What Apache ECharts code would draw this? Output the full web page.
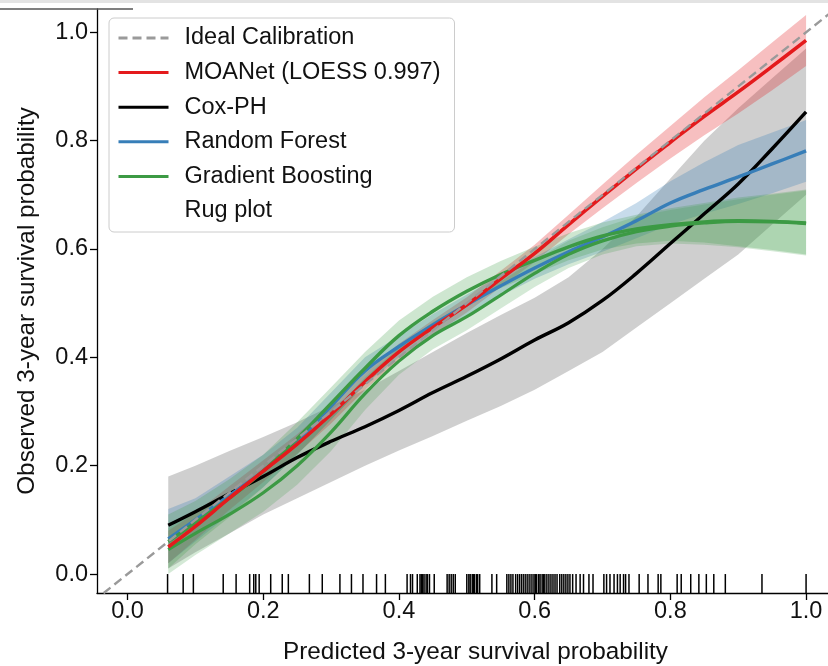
<!DOCTYPE html>
<html>
<head>
<meta charset="utf-8">
<script src="https://cdn.jsdelivr.net/npm/echarts@6/dist/echarts.min.js"></script>
<style>
  html, body { margin: 0; padding: 0; background: #fff; }
  #chart { width: 828px; height: 666px; }
</style>
</head>
<body>
<div id="chart"></div>
<script>
// predicted probability grid shared by all curves
const xGrid = [0.06, 0.1, 0.15, 0.2, 0.25, 0.3, 0.35, 0.4, 0.45, 0.5, 0.55, 0.6, 0.65, 0.7, 0.75, 0.8, 0.85, 0.9, 0.95, 1.0];

// MOANet
const moaMid = [0.05, 0.088, 0.14, 0.19, 0.24, 0.295, 0.355, 0.41, 0.455, 0.497, 0.545, 0.592, 0.645, 0.697, 0.748, 0.797, 0.845, 0.89, 0.937, 0.985];
const moaLo  = [0.02, 0.063, 0.118, 0.17, 0.222, 0.278, 0.34, 0.395, 0.441, 0.483, 0.53, 0.576, 0.627, 0.675, 0.722, 0.767, 0.81, 0.85, 0.893, 0.938];
const moaHi  = [0.08, 0.113, 0.162, 0.21, 0.258, 0.312, 0.37, 0.425, 0.469, 0.511, 0.56, 0.608, 0.663, 0.719, 0.774, 0.827, 0.88, 0.93, 0.981, 1.032];

// Cox-PH
const coxMid = [0.09, 0.115, 0.148, 0.18, 0.215, 0.245, 0.272, 0.302, 0.335, 0.365, 0.397, 0.432, 0.464, 0.505, 0.555, 0.61, 0.665, 0.72, 0.785, 0.853];
const coxLo  = [0.01, 0.04, 0.075, 0.11, 0.14, 0.17, 0.2, 0.228, 0.255, 0.283, 0.31, 0.34, 0.375, 0.41, 0.455, 0.5, 0.545, 0.59, 0.645, 0.70];
const coxHi  = [0.18, 0.2, 0.227, 0.253, 0.28, 0.31, 0.34, 0.375, 0.41, 0.445, 0.478, 0.51, 0.548, 0.6, 0.66, 0.73, 0.8, 0.86, 0.915, 0.97];

// Random Forest
const rfMid = [0.065, 0.10, 0.145, 0.19, 0.245, 0.31, 0.375, 0.42, 0.46, 0.497, 0.532, 0.565, 0.595, 0.622, 0.652, 0.685, 0.71, 0.733, 0.757, 0.781];
const rfLo  = [0.02, 0.06, 0.11, 0.16, 0.22, 0.285, 0.35, 0.40, 0.44, 0.478, 0.513, 0.545, 0.572, 0.595, 0.62, 0.645, 0.665, 0.683, 0.703, 0.724];
const rfHi  = [0.12, 0.14, 0.18, 0.22, 0.27, 0.335, 0.40, 0.44, 0.48, 0.516, 0.551, 0.585, 0.618, 0.65, 0.685, 0.725, 0.76, 0.792, 0.815, 0.838];

// Gradient Boosting (two green curves in the figure)
const gbMid = [0.06, 0.095, 0.14, 0.19, 0.25, 0.315, 0.38, 0.44, 0.485, 0.522, 0.553, 0.579, 0.604, 0.624, 0.637, 0.645, 0.65, 0.652, 0.651, 0.648];
const gbLo  = [0.01, 0.055, 0.105, 0.16, 0.22, 0.285, 0.35, 0.41, 0.46, 0.497, 0.528, 0.554, 0.579, 0.599, 0.61, 0.615, 0.612, 0.605, 0.598, 0.59];
const gbHi  = [0.11, 0.135, 0.175, 0.22, 0.28, 0.345, 0.41, 0.468, 0.512, 0.548, 0.578, 0.604, 0.629, 0.649, 0.663, 0.675, 0.685, 0.695, 0.702, 0.71];
const gb2Mid = [0.045, 0.075, 0.11, 0.15, 0.2, 0.262, 0.333, 0.393, 0.44, 0.475, 0.515, 0.555, 0.59, 0.615, 0.632, 0.642, 0.648, 0.651, 0.65, 0.647];
const gb2Lo  = [0.0, 0.035, 0.075, 0.115, 0.165, 0.227, 0.303, 0.368, 0.415, 0.45, 0.49, 0.53, 0.565, 0.59, 0.605, 0.61, 0.608, 0.603, 0.596, 0.588];
const gb2Hi  = [0.085, 0.115, 0.145, 0.185, 0.235, 0.297, 0.363, 0.418, 0.465, 0.50, 0.54, 0.58, 0.615, 0.64, 0.66, 0.672, 0.682, 0.692, 0.70, 0.708];

// rug of predicted values
const rugX = [0.059, 0.082, 0.097, 0.141, 0.160, 0.180, 0.186, 0.189, 0.194, 0.211, 0.228, 0.237, 0.268, 0.287, 0.313, 0.330, 0.347, 0.367, 0.380,
  0.412, 0.417, 0.420, 0.427, 0.431, 0.433, 0.435, 0.437, 0.440, 0.442, 0.445, 0.452, 0.471, 0.474, 0.477, 0.480, 0.483,
  0.500, 0.503, 0.505, 0.508, 0.510, 0.511, 0.514, 0.516, 0.519, 0.537, 0.544,
  0.559, 0.562, 0.565, 0.568, 0.572, 0.575, 0.578, 0.581, 0.584, 0.587, 0.590, 0.593, 0.596, 0.599, 0.601, 0.603, 0.606, 0.608,
  0.611, 0.613, 0.615, 0.618, 0.621, 0.624, 0.627, 0.630, 0.633, 0.637, 0.640, 0.643, 0.646, 0.649, 0.652, 0.656, 0.661, 0.667,
  0.672, 0.680, 0.686, 0.702, 0.706, 0.711, 0.717, 0.722, 0.726, 0.731, 0.734, 0.739, 0.754, 0.767, 0.782, 0.786,
  0.810, 0.816, 0.830, 0.842, 0.853, 0.864, 0.881, 0.935, 1.000];

const idealX = [-0.1, 1.2];
const tickValues = [0, 0.2, 0.4, 0.6, 0.8, 1.0];

const xMin = -0.045, xMax = 1.05, yMin = -0.035, yMax = 1.043;
const FONT = '"Liberation Sans", Arial, Helvetica, sans-serif';
const FS = 23.5;
const FS_NAME = 24.3;

const C_RED = '#e41a1c', C_BLUE = '#377eb8', C_GREEN = '#3c9a44', C_GRAY = '#808080';

function pairs(mid) { return xGrid.map((x, i) => [x, mid[i]]); }

function band(lo, hi, color, opacity) {
  return {
    type: 'custom',
    silent: true,
    clip: true,
    z: 1,
    data: [[xGrid[0], lo[0]]],
    renderItem: function (params, api) {
      const pts = [];
      for (let i = 0; i < xGrid.length; i++) pts.push(api.coord([xGrid[i], hi[i]]));
      for (let i = xGrid.length - 1; i >= 0; i--) pts.push(api.coord([xGrid[i], lo[i]]));
      return { type: 'polygon', shape: { points: pts }, style: { fill: color, opacity: opacity } };
    }
  };
}

function curve(name, mid, color, width) {
  return {
    name: name, type: 'line', data: pairs(mid), smooth: 0.4,
    showSymbol: false, symbol: 'none', silent: true, z: 3,
    lineStyle: { color: color, width: width }, itemStyle: { color: color }
  };
}

const chart = echarts.init(document.getElementById('chart'), null, { renderer: 'canvas' });

chart.setOption({
  animation: false,
  backgroundColor: '#fff',
  grid: { left: 97, top: 9, width: 743, height: 584, containLabel: false, outerBoundsMode: 'none' },
  xAxis: {
    type: 'value', min: xMin, max: xMax,
    name: 'Predicted 3-year survival probability', nameLocation: 'middle', nameGap: 47,
    nameTextStyle: { fontSize: FS_NAME, color: '#111', fontFamily: FONT, padding: [0, 0, 0, 14] },
    axisLine: { onZero: false, lineStyle: { color: '#000', width: 1.3 } },
    axisTick: { customValues: tickValues, length: 7, lineStyle: { color: '#000', width: 1.3 } },
    axisLabel: { customValues: tickValues, formatter: v => v.toFixed(1), fontSize: FS, color: '#111', fontFamily: FONT, margin: 7 },
    splitLine: { show: false }
  },
  yAxis: {
    type: 'value', min: yMin, max: yMax,
    name: 'Observed 3-year survival probability', nameLocation: 'middle', nameGap: 58,
    nameTextStyle: { fontSize: FS_NAME, color: '#111', fontFamily: FONT },
    axisLine: { onZero: false, lineStyle: { color: '#000', width: 1.3 } },
    axisTick: { customValues: tickValues, length: 7, lineStyle: { color: '#000', width: 1.3 } },
    axisLabel: { customValues: tickValues, formatter: v => v.toFixed(1), fontSize: FS, color: '#111', fontFamily: FONT, margin: 9 },
    splitLine: { show: false }
  },
  legend: {
    orient: 'vertical', left: 109, top: 18,
    padding: [7, 14, 8, 8],
    itemWidth: 50, itemHeight: 14, itemGap: 8.6,
    itemStyle: { opacity: 0 },
    lineStyle: { width: 3 },
    backgroundColor: 'rgba(255,255,255,0.85)', borderColor: '#cccccc', borderWidth: 1, borderRadius: 5,
    textStyle: { fontSize: FS, color: '#111', fontFamily: FONT, lineHeight: 26, padding: [0, 0, 0, 11] },
    selectedMode: false,
    data: [
      { name: 'Ideal Calibration' },
      { name: 'MOANet (LOESS 0.997)' },
      { name: 'Cox-PH' },
      { name: 'Random Forest' },
      { name: 'Gradient Boosting' },
      { name: 'Rug plot', icon: 'none' }
    ]
  },
  graphic: [
    { type: 'rect', shape: { x: 0, y: 0, width: 828, height: 3 }, style: { fill: '#e3e3e3' }, z: 100 },
    { type: 'line', shape: { x1: 0, y1: 9, x2: 133, y2: 9 }, style: { stroke: '#555', lineWidth: 1.5 }, z: 100 }
  ],
  series: [
    band(coxLo, coxHi, C_GRAY, 0.38),
    band(moaLo, moaHi, C_RED, 0.28),
    band(rfLo, rfHi, C_BLUE, 0.28),
    band(gbLo, gbHi, C_GREEN, 0.25),
    band(gb2Lo, gb2Hi, C_GREEN, 0.22),
    curve('Cox-PH', coxMid, '#000', 3.4),
    curve('Random Forest', rfMid, C_BLUE, 3.4),
    curve('Gradient Boosting', gbMid, C_GREEN, 3.4),
    curve('Gradient Boosting 2', gb2Mid, C_GREEN, 3.2),
    curve('MOANet (LOESS 0.997)', moaMid, C_RED, 3.6),
    {
      name: 'Ideal Calibration', type: 'line', data: idealX.map(v => [v, v]),
      showSymbol: false, symbol: 'none', silent: true, z: 4, clip: true,
      lineStyle: { color: '#9a9a9a', width: 2.4, type: [9, 5] }, itemStyle: { color: '#9a9a9a' }
    },
    {
      name: 'Rug plot', type: 'custom', silent: true, clip: true, z: 2,
      itemStyle: { color: '#000' },
      data: rugX.map(v => [v, 0]),
      renderItem: function (params, api) {
        const a = api.coord([api.value(0), 0]);
        const b = api.coord([api.value(0), yMin]);
        return { type: 'line', shape: { x1: a[0], y1: a[1], x2: b[0], y2: b[1] }, style: { stroke: '#000', lineWidth: 1.5 } };
      }
    }
  ]
});
</script>
</body>
</html>
